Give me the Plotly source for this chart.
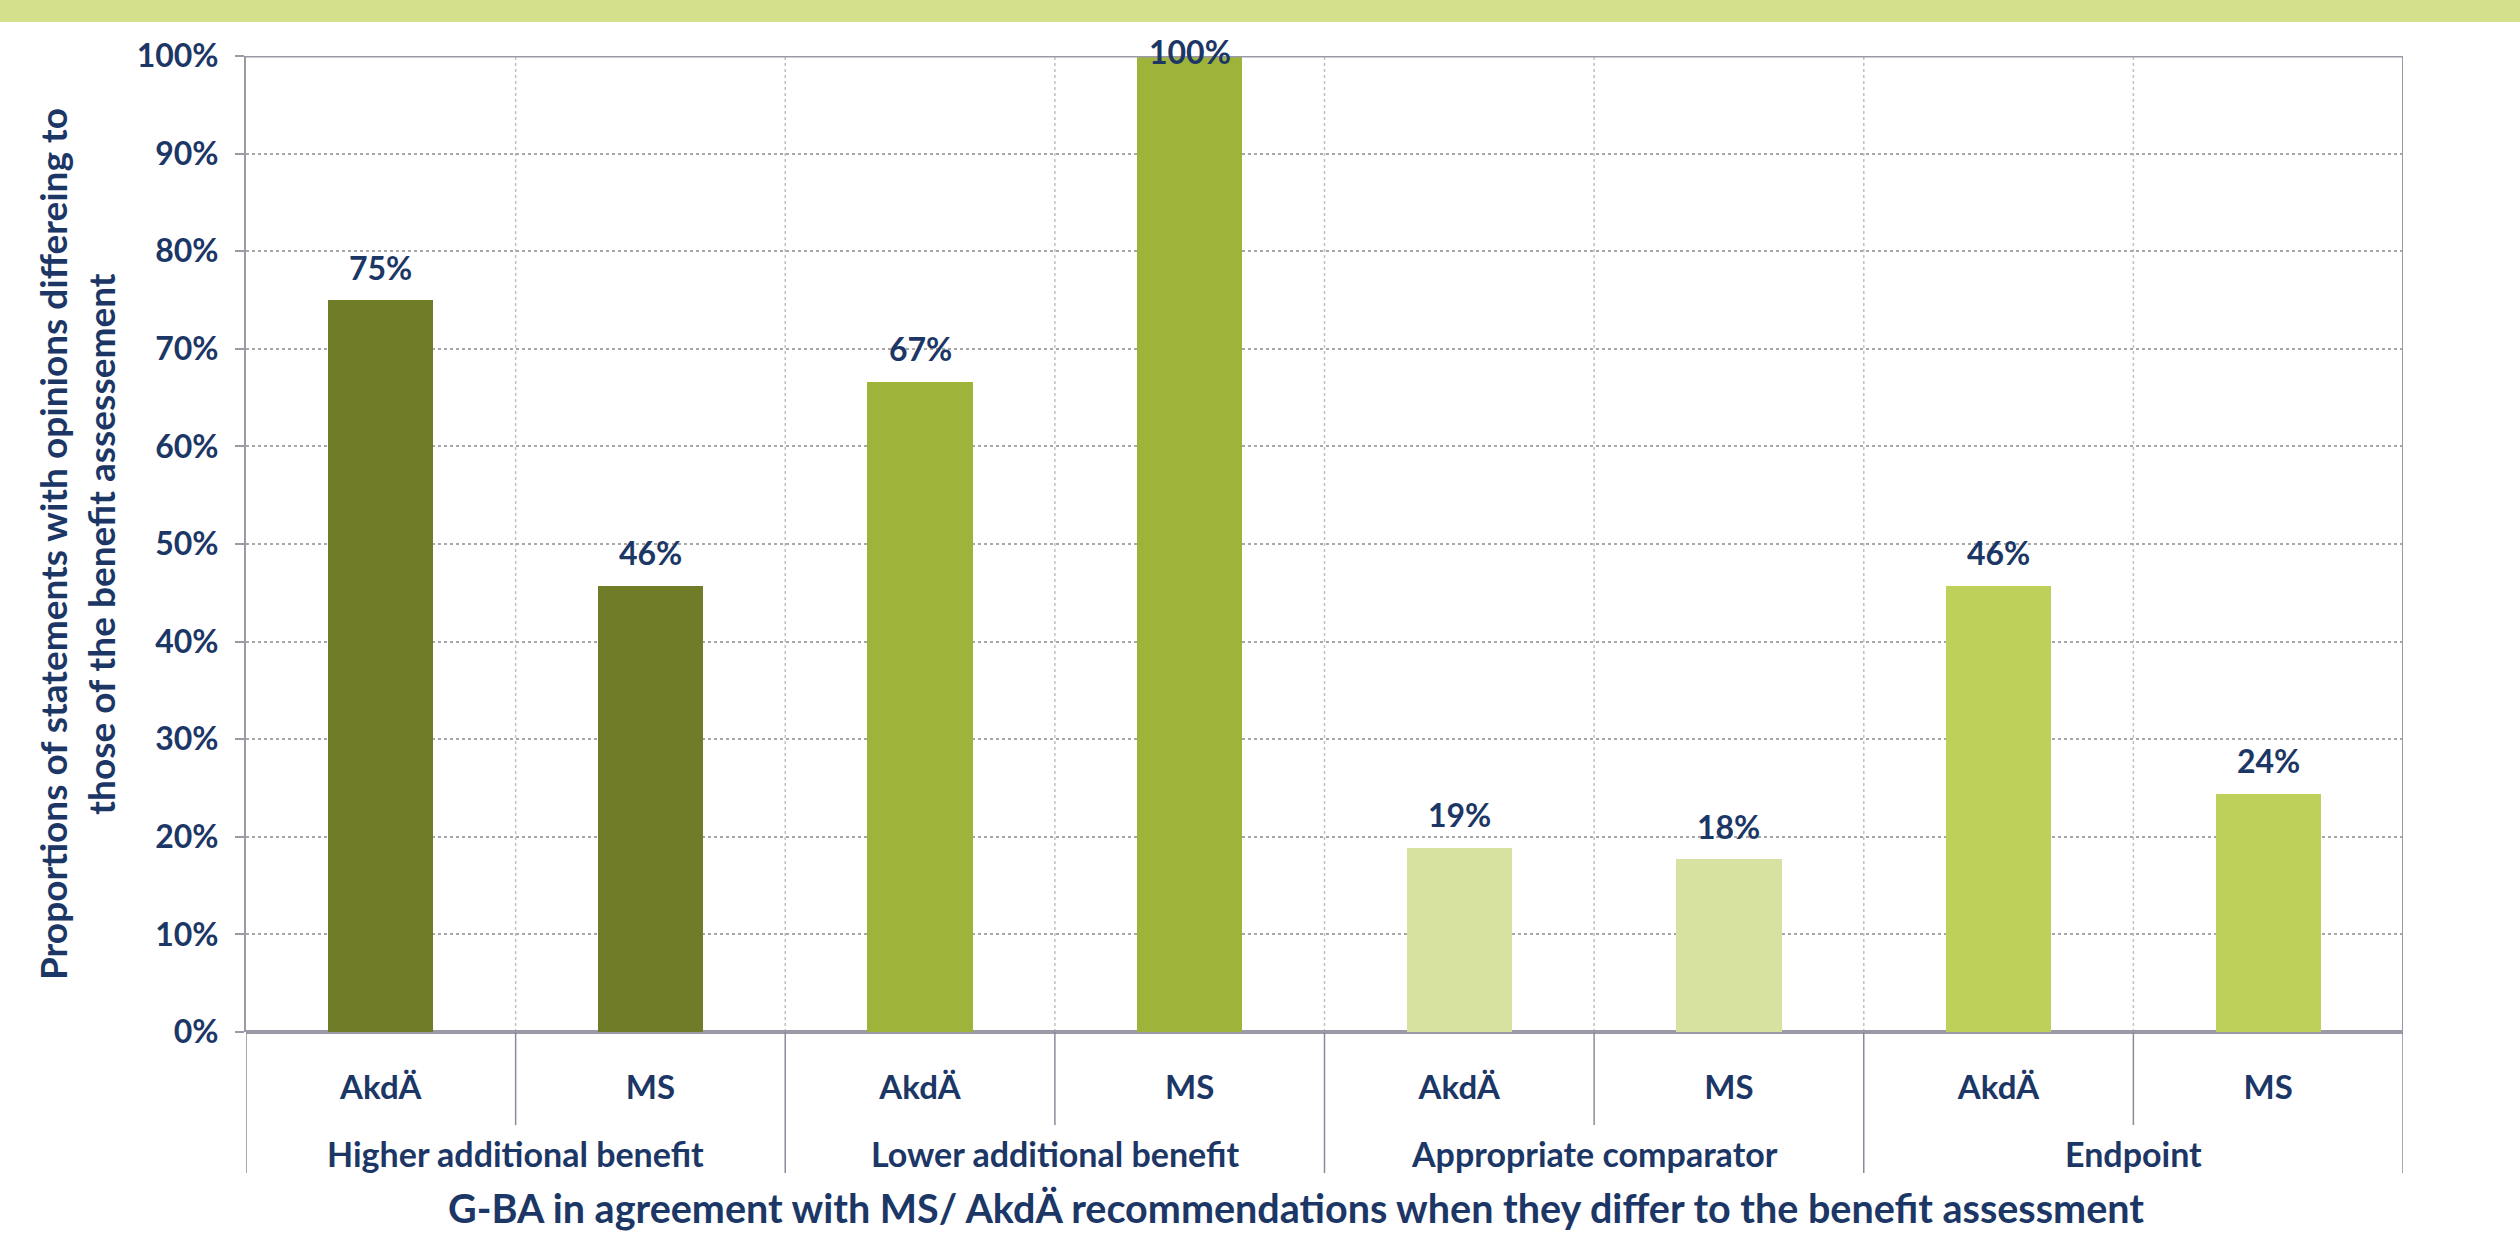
import plotly.graph_objects as go

# ---- data ----
groups = ["Higher additional benefit", "Lower additional benefit",
          "Appropriate comparator", "Endpoint"]
sources = ["AkdÄ", "MS"]
values = [75.0, 45.7, 66.6, 100.0, 18.9, 17.7, 45.7, 24.4]
value_labels = ["75%", "46%", "67%", "100%", "19%", "18%", "46%", "24%"]
y_tick_values = [0, 10, 20, 30, 40, 50, 60, 70, 80, 90, 100]
y_tick_labels = ["0%", "10%", "20%", "30%", "40%", "50%", "60%", "70%", "80%", "90%", "100%"]
y_title = "Proportions of statements with opinions differeing to<br>those of the benefit assessement"
x_title = "G-BA in agreement with MS/ AkdÄ recommendations when they differ to the benefit assessment"

# ---- style ----
group_colors = ["#717c28", "#9eb33a", "#d8e2a0", "#bed05a"]
navy = "#1c3766"
font_family = "Lato"

W, H = 2520, 1234
ML, MR, MT, MB = 246, 117, 56, 202
plot_w = W - ML - MR
plot_h = H - MT - MB

n_src = len(sources)
x_pos = [i + 0.5 for i in range(len(values))]
x_text = [sources[i % n_src] for i in range(len(values))]
bar_colors = [group_colors[i // n_src] for i in range(len(values))]

fig = go.Figure()
fig.add_trace(go.Bar(
    x=x_pos, y=values, width=0.39,
    marker=dict(color=bar_colors, line=dict(width=0)),
    hoverinfo="skip", showlegend=False,
))

annotations = []
# value labels
for xp, v, lab in zip(x_pos, values, value_labels):
    shift = 5 if v >= 99 else 33
    annotations.append(dict(x=xp, y=v, xref="x", yref="y", text=lab,
                            showarrow=False, yshift=shift, yanchor="middle",
                            font=dict(family=font_family, size=32, color=navy, weight=700)))
# group labels
for gi, g in enumerate(groups):
    annotations.append(dict(x=gi * n_src + n_src / 2, y=-121 / plot_h, xref="x", yref="paper",
                            text=g, showarrow=False, yanchor="middle",
                            font=dict(family=font_family, size=34, color=navy, weight=700)))
# x title
annotations.append(dict(x=(1296 - ML) / plot_w, y=-175 / plot_h, xref="paper", yref="paper",
                        text=x_title, showarrow=False, yanchor="middle", xanchor="center",
                        font=dict(family=font_family, size=39.5, color=navy, weight=700)))
# y title
annotations.append(dict(x=0, y=0.5, xref="paper", yref="paper", xshift=-(ML - 76),
                        text=y_title, showarrow=False, textangle=-90,
                        xanchor="center", yanchor="middle",
                        font=dict(family=font_family, size=37, color=navy, weight=700)))

shapes = []
# top band
shapes.append(dict(type="rect", xref="paper", yref="paper",
                   x0=-ML / plot_w - 0.01, x1=1 + MR / plot_w + 0.01,
                   y0=1 + (MT - 22) / plot_h, y1=1 + MT / plot_h + 0.01,
                   fillcolor="#d5e08d", line=dict(width=0), layer="below"))
# vertical dotted gridlines inside plot
n_slots = len(values)
for k in range(1, n_slots):
    shapes.append(dict(type="line", xref="x", yref="y", x0=k, x1=k, y0=0, y1=100,
                       line=dict(color="#c0c0c0", width=1.5, dash="dot"), layer="below"))
# separators below axis
for k in range(0, n_slots + 1):
    depth = -141 / plot_h if k % n_src == 0 else -93 / plot_h
    shapes.append(dict(type="line", xref="x", yref="paper", x0=k, x1=k, y0=0, y1=depth,
                       line=dict(color="#8a8a9a", width=1.5)))
# top line and right border
shapes.append(dict(type="line", xref="x", yref="y", x0=0, x1=n_slots, y0=100, y1=100,
                   line=dict(color="#9a9aa6", width=3)))
shapes.append(dict(type="line", xref="x", yref="paper", x0=n_slots, x1=n_slots, y0=1, y1=0,
                   line=dict(color="#9a9aa6", width=2)))

fig.update_layout(
    width=W, height=H,
    margin=dict(l=ML, r=MR, t=MT, b=MB),
    paper_bgcolor="white", plot_bgcolor="white",
    bargap=0,
    annotations=annotations,
    shapes=shapes,
    xaxis=dict(range=[0, n_slots], tickvals=x_pos, ticktext=x_text,
               ticks="outside", ticklen=26, tickcolor="rgba(0,0,0,0)",
               showgrid=False, zeroline=False, showline=False,
               tickfont=dict(family=font_family, size=33, color=navy, weight=700)),
    yaxis=dict(range=[0, 100], tickvals=y_tick_values, ticktext=y_tick_labels,
               ticks="outside", ticklen=9, tickcolor="#9a9aa6", tickwidth=2,
               ticklabelstandoff=10,
               showgrid=True, gridcolor="#a8a8a8", gridwidth=2, griddash="dot",
               zeroline=True, zerolinecolor="#9a9aa6", zerolinewidth=4,
               showline=True, linecolor="#9a9aa6", linewidth=2,
               tickfont=dict(family=font_family, size=32, color=navy, weight=700)),
)

fig.write_html("out.html")
